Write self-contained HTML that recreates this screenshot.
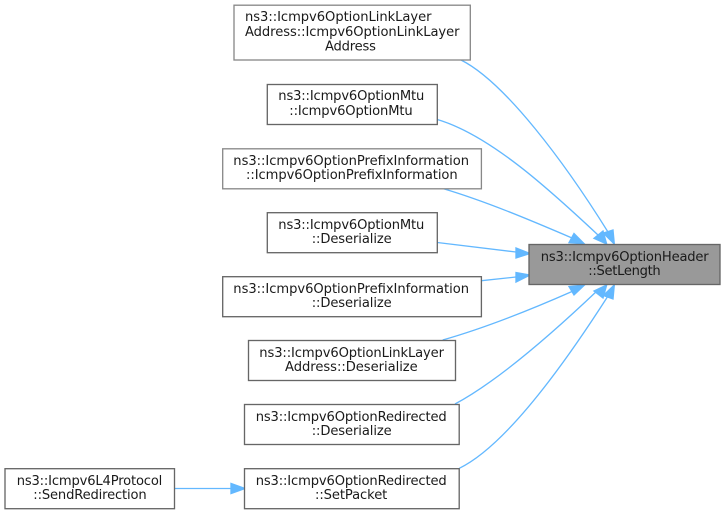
<!DOCTYPE html>
<html><head><meta charset="utf-8"><style>
html,body{margin:0;padding:0;background:#fff;width:725px;height:514px;overflow:hidden}
svg{display:block}
text{font-family:"DejaVu Sans",sans-serif;font-size:13.1px;fill:#1a1a1a;text-anchor:start}
.b{fill:#fff;stroke:#666;stroke-width:1.33}
.e{fill:none;stroke:#63b8ff;stroke-width:1.33}
.a{fill:#63b8ff;stroke:#63b8ff;stroke-width:1.33}
</style></head><body>
<svg width="725" height="514" viewBox="0 0 725 514" xmlns="http://www.w3.org/2000/svg">
<path class="e" d="M461,60C505,82 565,163 608,232"/>
<polygon class="a" points="614.3,244 603.3,233 613,230"/>
<path class="e" d="M437.3,119.5C490,135 550,190 598,235"/>
<polygon class="a" points="606.7,244 594,238.3 603,231"/>
<path class="e" d="M442.7,188.5C485,201 530,220 572,238"/>
<polygon class="a" points="584.5,244 569,242.7 574,233.5"/>
<path class="e" d="M437.3,242.5L516,252"/>
<polygon class="a" points="530,253.5 516,248 516,258"/>
<path class="e" d="M481.5,280.7L516,277"/>
<polygon class="a" points="530,275 516,272.5 516,282"/>
<path class="e" d="M442.7,340C485,328 530,310 572,291.5"/>
<polygon class="a" points="584.5,285 574,295 569,286.5"/>
<path class="e" d="M455,404C500,380 558,328 598,290"/>
<polygon class="a" points="606.7,285 603,298 594,291"/>
<path class="e" d="M459.3,468.3C507,445 567,360 608,296"/>
<polygon class="a" points="614.3,285 613,299 603.3,295.5"/>
<path class="e" d="M174.5,488.5L231,488.5"/>
<polygon class="a" points="245,488.5 231,483.5 231,493.5"/>

<rect class="b" x="234" y="5.2" width="236.3" height="54.8" style="stroke:#888"/>
<text x="245" y="21" textLength="186.5">ns3::Icmpv6OptionLinkLayer</text>
<text x="245" y="36" textLength="214.5">Address::Icmpv6OptionLinkLayer</text>
<text x="325" y="50.5" textLength="51">Address</text>

<rect class="b" x="267.3" y="84.5" width="170" height="40"/>
<text x="278.3" y="100" textLength="146">ns3::Icmpv6OptionMtu</text>
<text x="289.3" y="115" textLength="123.4">::Icmpv6OptionMtu</text>

<rect class="b" x="222.7" y="148.8" width="258.7" height="40" style="stroke:#888"/>
<text x="233.3" y="165" textLength="235.7">ns3::Icmpv6OptionPrefixInformation</text>
<text x="246" y="179" textLength="211.7">::Icmpv6OptionPrefixInformation</text>

<rect class="b" x="267.3" y="212.7" width="170" height="40"/>
<text x="278.3" y="229" textLength="146">ns3::Icmpv6OptionMtu</text>
<text x="311.7" y="243" textLength="80">::Deserialize</text>

<rect class="b" x="222.7" y="276.7" width="258.7" height="40"/>
<text x="233.3" y="293" textLength="235.7">ns3::Icmpv6OptionPrefixInformation</text>
<text x="311.7" y="307" textLength="80">::Deserialize</text>

<rect class="b" x="248.5" y="340.5" width="207" height="40"/>
<text x="259.3" y="357" textLength="184.7">ns3::Icmpv6OptionLinkLayer</text>
<text x="285" y="371" textLength="132.7">Address::Deserialize</text>

<rect class="b" x="244.5" y="404.5" width="214.7" height="40"/>
<text x="255.7" y="421" textLength="191">ns3::Icmpv6OptionRedirected</text>
<text x="311.7" y="435" textLength="80">::Deserialize</text>

<rect class="b" x="244.5" y="468.7" width="214.7" height="40"/>
<text x="255.7" y="485" textLength="191">ns3::Icmpv6OptionRedirected</text>
<text x="315" y="499" textLength="72.3">::SetPacket</text>

<rect class="b" x="5" y="468.7" width="169.5" height="40"/>
<text x="16.7" y="485" textLength="145.6">ns3::Icmpv6L4Protocol</text>
<text x="33.3" y="499" textLength="113.4">::SendRedirection</text>

<rect class="b" x="529" y="244.5" width="191" height="40" style="fill:#999"/>
<text x="540.7" y="261" textLength="168">ns3::Icmpv6OptionHeader</text>
<text x="588.3" y="275" textLength="72.4">::SetLength</text>
</svg>
</body></html>
